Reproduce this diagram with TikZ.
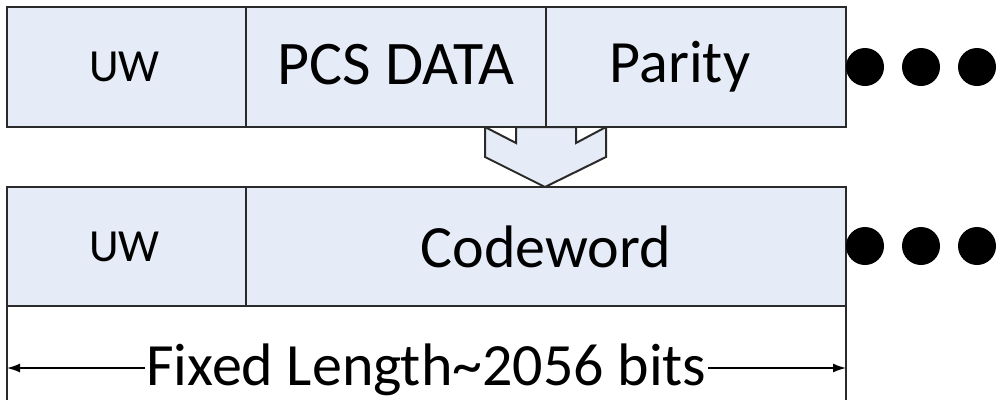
\documentclass[tikz,border=0pt]{standalone}
\usepackage{fontspec}
\setmainfont{Carlito}
\usetikzlibrary{arrows.meta}
\definecolor{cellfill}{HTML}{E6ECF7}
\definecolor{edge}{HTML}{2A2A2A}
\tikzset{
  cell/.style={draw=edge, line width=2pt, fill=cellfill, rectangle, anchor=north west, inner sep=0pt, outer sep=0pt},
  small/.style={font=\fontsize{46}{48}\selectfont},
  big/.style={font=\fontsize{60}{62}\selectfont},
  dot/.style={fill=black, circle, minimum size=38pt, inner sep=0pt},
  dim/.style={line width=1.5pt, draw=black, -{Latex[length=13pt,width=9pt]}},
  ext/.style={line width=1.5pt, draw=edge},
  bigarrow/.style={draw=edge, line width=2pt, fill=cellfill, line join=miter}
}
\begin{document}
\begin{tikzpicture}[x=1pt, y=-1pt]
\useasboundingbox (0,0) rectangle (1000,400);
% down arrow (drawn first so top boxes cover its top)
\path[bigarrow] (485,127) -- (516,143) -- (516,127) -- (576,127) -- (576,143) -- (606,127) -- (606,157) -- (545,187) -- (485,157) -- cycle;
% top row
\node[cell, minimum width=239pt, minimum height=120pt] (uw1) at (7,7) {};
\node[cell, minimum width=300pt, minimum height=120pt] (pcs) at (246,7) {};
\node[cell, minimum width=300pt, minimum height=120pt] (par) at (546,7) {};
\node[small] (uw1t) at ([xshift=-2pt]uw1.center) {UW};
\node[big, font=\fontsize{62}{64}\selectfont] (pcst) at ([yshift=2pt]pcs.center) {PCS DATA};
\node[big] (part) at ([xshift=-16pt]par.center) {Parity};
% bottom row
\node[cell, minimum width=239pt, minimum height=119pt] (uw2) at (7,187) {};
\node[cell, minimum width=600pt, minimum height=119pt] (cw) at (246,187) {};
\node[small] (uw2t) at ([xshift=-2pt]uw2.center) {UW};
\node[big] (cwt) at (cw.center) {Codeword};
% dots
\node[dot] (d1) at (865,67) {};
\node[dot] (d2) at (921,67) {};
\node[dot] (d3) at (977,67) {};
\node[dot] (d4) at (865,246) {};
\node[dot] (d5) at (921,246) {};
\node[dot] (d6) at (977,246) {};
% dimension
\coordinate (lt) at (7,306);
\coordinate (lb) at (7,400);
\coordinate (rt) at (846,306);
\coordinate (rb) at (846,400);
\coordinate (dl) at (7,368);
\coordinate (dr) at (846,368);
\draw[ext] (lt) -- (lb);
\draw[ext] (rt) -- (rb);
\node[font=\fontsize{60}{62}\selectfont, anchor=base, inner sep=1pt] (fix) at (426.5,385) {Fixed Length\textasciitilde 2056 bits};
\draw[dim] (fix.west |- dl) -- (dl);
\draw[dim] (fix.east |- dr) -- (dr);
\end{tikzpicture}
\end{document}
